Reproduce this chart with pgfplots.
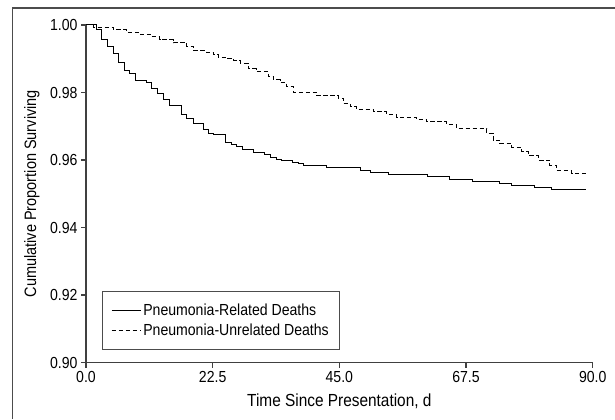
\documentclass[border=0pt]{standalone}
\usepackage{fontspec}
\setmainfont{Liberation Sans}[FakeStretch=0.88]
\usepackage{pgfplots}
\pgfplotsset{compat=1.18}
\newcommand\lbl{\fontsize{16bp}{19bp}\selectfont}
\newcommand\axlbl{\fontsize{17.5bp}{21bp}\selectfont}

\begin{document}
\begin{tikzpicture}[x=1bp,y=1bp]
\useasboundingbox (0,0) rectangle (615,419);
% open frame (top and left only, as in the cropped original)
\draw[line width=1.5bp, black!70] (12.5,0) -- (12.5,411) -- (615,411);
\begin{axis}[
    at={(86bp,56.5bp)}, anchor=south west,
    scale only axis, width=506.7bp, height=337.5bp,
    xmin=0, xmax=90, ymin=0.90, ymax=1.00,
    axis x line=bottom, axis y line=left,
    axis line style={-, line width=1.2bp, black!75},
    tick align=outside, major tick length=5bp,
    tick style={line width=1.2bp, black!75},
    xtick={0,22.5,45,67.5,90},
    ytick={0.9,0.92,0.94,0.96,0.98,1},
    xticklabel style={/pgf/number format/.cd, fixed, fixed zerofill, precision=1},
    yticklabel style={/pgf/number format/.cd, fixed, fixed zerofill, precision=2},
    /pgf/number format/assume math mode=true,
    tick label style={font=\lbl},
    xlabel={Time Since Presentation, d},
    ylabel={Cumulative Proportion Surviving},
    xlabel style={font=\axlbl, at={(axis description cs:0.5,0)}, anchor=base, yshift=-44bp},
    ylabel style={font=\fontsize{16.5bp}{20bp}\selectfont,
        at={(axis description cs:0,0.5)}, anchor=base, yshift=50bp},
    legend style={at={(axis description cs:0.031,0.036)}, anchor=south west,
        draw=black!70, line width=1.2bp, font=\lbl, inner xsep=9bp, inner ysep=10.5bp,
        row sep=3bp, cells={anchor=west}},
    legend image code/.code={\path (0bp,0bp) -- (29bp,0bp); \draw[#1] (0bp,0bp) -- (25bp,0bp);},
]
% pneumonia-related deaths
\addplot[const plot, line width=1bp, black] coordinates {
(0,1.0) (1.9,0.9987) (2.8,0.9958) (3.8,0.9936) (4.9,0.9916) (5.7,0.9888)
(6.8,0.9864) (7.8,0.9855) (8.8,0.9837) (10.8,0.9829) (11.7,0.9812)
(12.7,0.9798) (13.7,0.9780) (14.9,0.9760) (16.9,0.9736) (17.9,0.9724)
(19.1,0.9709) (20.8,0.9689) (21.7,0.9679) (22.7,0.9675) (24.8,0.9651)
(25.9,0.9646) (26.8,0.9640) (27.8,0.9632) (29.7,0.9622) (31.7,0.9617)
(32.7,0.9608) (33.8,0.9602) (34.8,0.9599) (36.7,0.9594) (37.7,0.9589)
(38.7,0.9583) (42.7,0.9577) (48.7,0.9570) (50.6,0.9564) (53.7,0.9558)
(60.7,0.9551) (64.6,0.9541) (68.6,0.9536) (73.5,0.9529) (75.6,0.9524)
(79.7,0.9519) (82.6,0.9514) (88.8,0.9514)
};
\addlegendentry{Pneumonia-Related Deaths}
% pneumonia-unrelated deaths
\addplot[const plot, line width=1bp, black, dash pattern=on 4.5bp off 2.5bp] coordinates {
(0,1.0) (1.3,0.9993) (4.85,0.9986) (7.2,0.9979) (9.6,0.9973) (11.4,0.9966)
(13.1,0.9957) (15.5,0.9947) (17.9,0.9937) (19.1,0.9924) (21.4,0.9919)
(22.6,0.9912) (23.5,0.9905) (24.7,0.9900) (26.2,0.9894) (27.4,0.9887)
(28.8,0.9871) (30.3,0.9863) (32.4,0.9848) (33.3,0.9838) (34.5,0.9831)
(35.6,0.9818) (36.8,0.9801) (41.0,0.9790) (44.8,0.9783) (45.7,0.9768)
(46.9,0.9758) (48.1,0.9750) (51.0,0.9743) (53.4,0.9736) (55.2,0.9727)
(58.7,0.9720) (60.5,0.9714) (64.1,0.9706) (65.8,0.9694) (71.2,0.9679)
(72.3,0.9659) (73.5,0.9649) (75.6,0.9638) (77.4,0.9625) (78.6,0.9612)
(80.3,0.9600) (82.4,0.9585) (83.6,0.9570) (86.3,0.9561) (88.8,0.9561)
};
\addlegendentry{Pneumonia-Unrelated Deaths}
\end{axis}
\end{tikzpicture}
\end{document}
